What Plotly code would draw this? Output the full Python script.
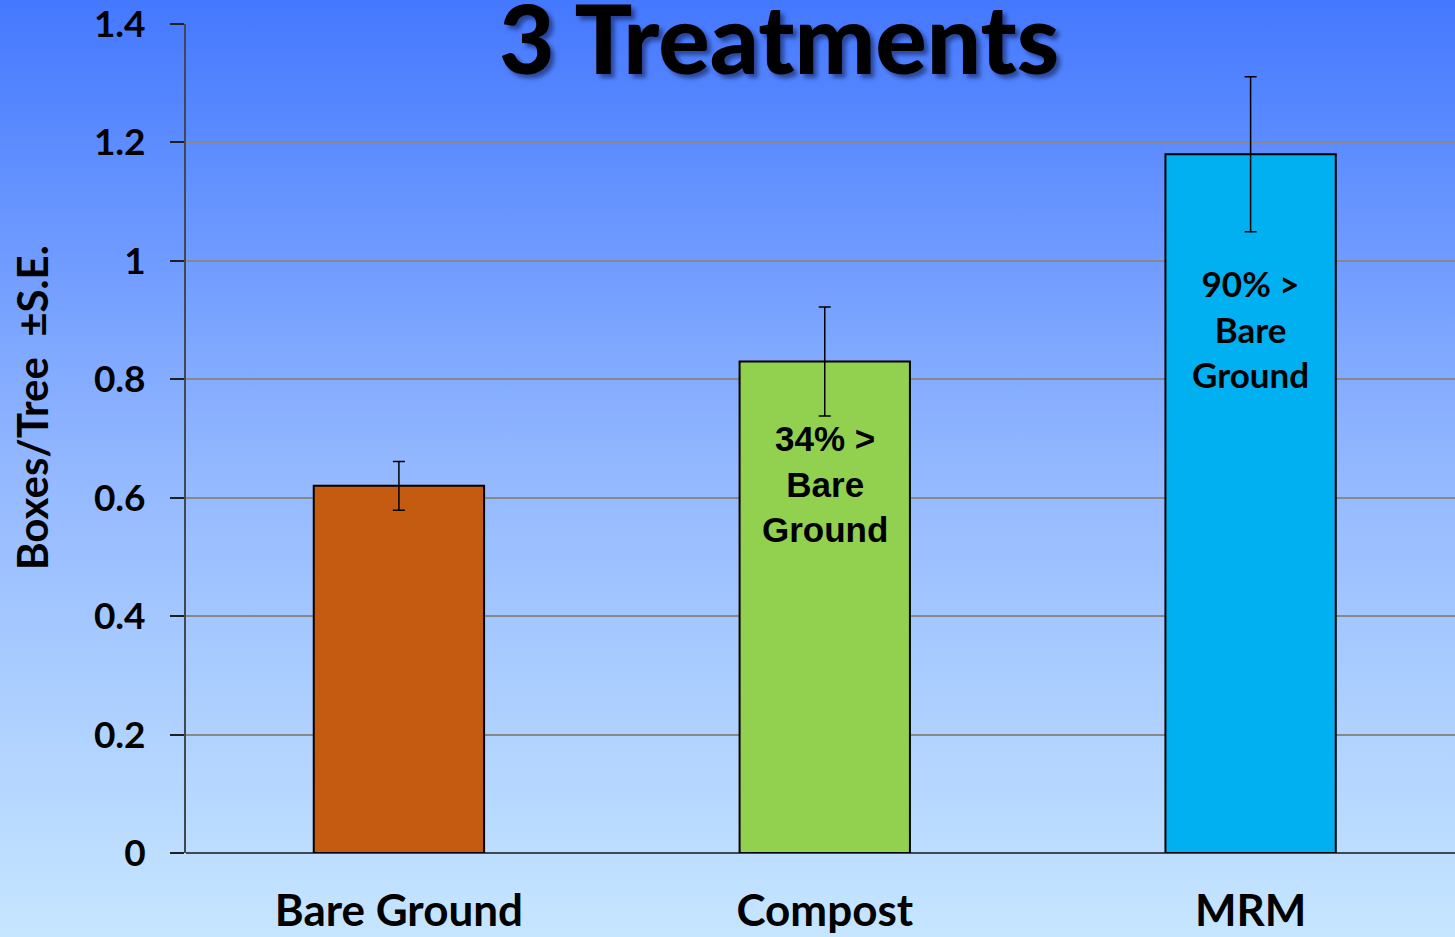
import base64
import plotly.graph_objects as go

categories = ["Bare Ground", "Compost", "MRM"]
values = [0.62, 0.83, 1.18]
errors = [0.041, 0.092, 0.131]
bar_colors = ["#c55a11", "#92d050", "#00b0f0"]
y_ticks = [0, 0.2, 0.4, 0.6, 0.8, 1.0, 1.2, 1.4]
y_tick_labels = ["0", "0.2", "0.4", "0.6", "0.8", "1", "1.2", "1.4"]
bar_notes = [None, "34% ><br>Bare<br>Ground", "90% ><br>Bare<br>Ground"]
note_y = [None, 0.623, 0.885]
note_fonts = [None, "Liberation Sans", "Lato"]
note_sizes = [None, 35, 35]

W, H = 1455, 937
L, T, B = 186, 24, 84
pw, ph = W - L, H - T - B


def px_x(p):
    return (p - L) / pw


def px_y(p):
    return 1 - (p - T) / ph


svg = ('<svg xmlns="http://www.w3.org/2000/svg" width="100" height="100" viewBox="0 0 100 100" '
       'preserveAspectRatio="none"><defs><linearGradient id="g" x1="0" y1="0" x2="0" y2="1">'
       '<stop offset="0" stop-color="#4478ff"/><stop offset="0.5" stop-color="#93b8ff"/>'
       '<stop offset="1" stop-color="#c6e6ff"/></linearGradient></defs>'
       '<rect width="100" height="100" fill="url(#g)"/></svg>')
src = "data:image/svg+xml;base64," + base64.b64encode(svg.encode()).decode()

fig = go.Figure()
fig.add_trace(go.Bar(
    x=categories, y=values, width=0.4,
    marker=dict(color=bar_colors, line=dict(color="black", width=2)),
    error_y=dict(type="data", array=errors, visible=True, color="black", thickness=1.5, width=6),
    showlegend=False, hoverinfo="skip",
))

annotations = []
for c, note, ny, nf, ns in zip(categories, bar_notes, note_y, note_fonts, note_sizes):
    if note:
        annotations.append(dict(x=c, y=ny, xref="x", yref="y", text=note, showarrow=False,
                                font=dict(family=nf, size=ns, color="black", weight="bold"),
                                align="center"))

annotations.append(dict(x=px_x(779), y=px_y(36), xref="paper", yref="paper",
                        xanchor="center", yanchor="middle",
                        text="3 Treatments", showarrow=False,
                        font=dict(family="Lato", size=96, color="black", weight=900,
                                  shadow="4px 4px 4px rgba(0,0,30,0.45)")))
annotations.append(dict(x=px_x(32), y=px_y(408), xref="paper", yref="paper",
                        xanchor="center", yanchor="middle", textangle=-90,
                        text="Boxes/Tree  ±S.E.", showarrow=False,
                        font=dict(family="Lato", size=42, color="black", weight="bold")))

fig.update_layout(
    width=W, height=H,
    margin=dict(l=L, r=0, t=T, b=B),
    paper_bgcolor="#93b8ff",
    plot_bgcolor="rgba(0,0,0,0)",
    images=[dict(source=src, xref="paper", yref="paper", x=-L / pw, y=1 + T / ph,
                 sizex=W / pw, sizey=H / ph, xanchor="left", yanchor="top",
                 sizing="stretch", layer="below")],
    annotations=annotations,
    xaxis=dict(range=[-0.5, 2.48], showgrid=False, ticks="", showline=False,
               tickfont=dict(family="Lato", size=44, color="black", weight="bold"),
               ticklabelstandoff=28),
    yaxis=dict(range=[0, 1.4], tickvals=y_ticks, ticktext=y_tick_labels,
               showgrid=True, gridcolor="#888888", gridwidth=1.5,
               zeroline=True, zerolinecolor="#404850", zerolinewidth=2,
               showline=True, linecolor="#404850", linewidth=2,
               ticks="outside", ticklen=14, tickwidth=2, tickcolor="#202020",
               tickfont=dict(family="Lato", size=37, color="black", weight="bold"),
               ticklabelstandoff=17, ticklabeloverflow="allow"),
    bargap=0.6,
)

fig.write_html("out.html")
